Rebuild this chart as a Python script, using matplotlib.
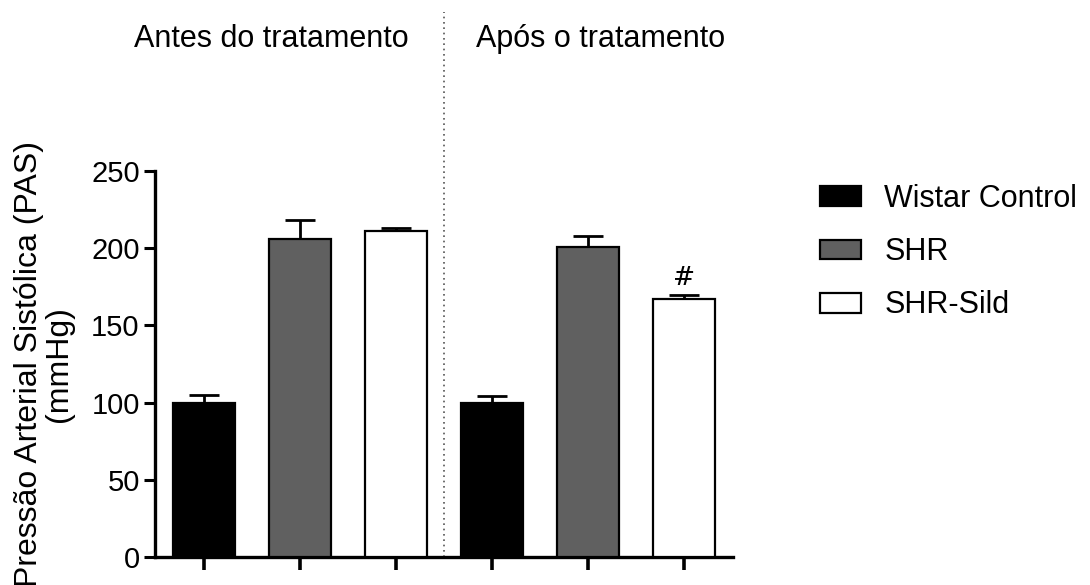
import numpy as np
import matplotlib
matplotlib.use("Agg")
import matplotlib.pyplot as plt
from matplotlib.patches import Patch

plt.rcParams['font.family'] = ['Liberation Sans', 'DejaVu Sans']

# systolic pressure, mean and SEM, before and after treatment
groups = ["Wistar Control", "SHR", "SHR-Sild"]
before_mean = [100, 206, 211]
before_sem = [5, 12, 2]
after_mean = [100, 201, 167]
after_sem = [4, 7, 3]
headers = ["Antes do tratamento", "Após o tratamento"]
y_ticks = [0, 50, 100, 150, 200, 250]

colors = ["black", "#606060", "white"]

means = before_mean + after_mean
sems = before_sem + after_sem
fills = colors + colors
x = np.arange(len(means))

fig = plt.figure(figsize=(10.9, 5.85), dpi=100)
ax = fig.add_axes([155 / 1090, 28 / 585, 578 / 1090, 386 / 585])

ax.bar(x, means, width=0.65, color=fills, edgecolor="black", linewidth=1.6, zorder=3)
ax.errorbar(x, means, yerr=[np.zeros(len(sems)), sems], fmt="none", ecolor="black",
            elinewidth=2.0, capsize=11, capthick=2.0, zorder=2)

# significance mark over SHR-Sild after treatment
ax.text(x[5], means[5] + sems[5] + 3, "#", ha="center", va="bottom", fontsize=19,
        family="DejaVu Serif")

# dotted divider between the two periods
ax.axvline(2.5, ymin=0, ymax=545 / 386, color="#555555", linestyle=(0, (1, 2.2)),
           linewidth=1.2, clip_on=False, zorder=1)

ax.set_xlim(-0.51, 5.51)
ax.set_ylim(0, 250)
ax.set_yticks(y_ticks)
ax.set_xticks(x)
ax.set_xticklabels([])
ax.tick_params(axis="y", labelsize=21, length=8, width=2.2, pad=3)
ax.tick_params(axis="x", length=9, width=2.6, direction="out")
for side in ["top", "right"]:
    ax.spines[side].set_visible(False)
for side in ["left", "bottom"]:
    ax.spines[side].set_linewidth(2.4)

fig.text(44 / 1090, 1 - 364 / 585, "Pressão Arterial Sistólica (PAS)\n(mmHg)",
         rotation=90, ha="center", va="center", fontsize=23, linespacing=1.0)

fig.text(271 / 1090, 1 - 47 / 585, headers[0], ha="center", va="baseline", fontsize=22)
fig.text(601 / 1090, 1 - 47 / 585, headers[1], ha="center", va="baseline", fontsize=22)

handles = [Patch(facecolor=c, edgecolor="black", linewidth=1.6) for c in colors]
fig.legend(handles, groups, loc="upper left", bbox_to_anchor=(820 / 1090, 1 - 184 / 585),
           frameon=False, fontsize=22, handlelength=1.35, handleheight=0.62,
           handletextpad=0.75, labelspacing=0.76, borderaxespad=0, borderpad=0)

fig.savefig("out.png", dpi=100)
